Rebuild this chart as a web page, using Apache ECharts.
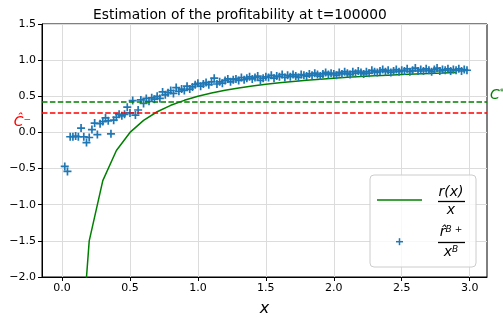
<!DOCTYPE html>
<html>
<head>
<meta charset="utf-8">
<script src="https://cdn.jsdelivr.net/npm/echarts@6/dist/echarts.min.js"></script>
<style>
  html, body { margin: 0; padding: 0; background: #fff; }
  #chart { width: 503px; height: 317px; }
</style>
</head>
<body>
<div id="chart"></div>
<script>
// estimated profitability r^B+/x^B (scatter) and true r(x)/x (line)
var scatterX = [0.02,0.04,0.06,0.08,0.10,0.12,0.14,0.16,0.18,0.20,0.22,0.24,0.26,0.28,0.30,0.32,0.34,0.36,0.38,0.40,
  0.42,0.44,0.46,0.48,0.50,0.52,0.54,0.56,0.58,0.60,0.62,0.64,0.66,0.68,0.70,0.72,0.74,0.76,0.78,0.80,
  0.82,0.84,0.86,0.88,0.90,0.92,0.94,0.96,0.98,1.00,1.02,1.04,1.06,1.08,1.10,1.12,1.14,1.16,1.18,1.20,
  1.22,1.24,1.26,1.28,1.30,1.32,1.34,1.36,1.38,1.40,1.42,1.44,1.46,1.48,1.50,1.52,1.54,1.56,1.58,1.60,
  1.62,1.64,1.66,1.68,1.70,1.72,1.74,1.76,1.78,1.80,1.82,1.84,1.86,1.88,1.90,1.92,1.94,1.96,1.98,2.00,
  2.02,2.04,2.06,2.08,2.10,2.12,2.14,2.16,2.18,2.20,2.22,2.24,2.26,2.28,2.30,2.32,2.34,2.36,2.38,2.40,
  2.42,2.44,2.46,2.48,2.50,2.52,2.54,2.56,2.58,2.60,2.62,2.64,2.66,2.68,2.70,2.72,2.74,2.76,2.78,2.80,
  2.82,2.84,2.86,2.88,2.90,2.92,2.94,2.96,2.98];
var scatterY = [-0.47,-0.54,-0.06,-0.06,-0.05,-0.06,0.06,-0.06,-0.14,-0.07,0.04,0.13,-0.03,0.12,0.15,0.20,0.16,-0.02,0.17,0.21,
  0.25,0.23,0.25,0.35,0.27,0.44,0.24,0.31,0.45,0.40,0.47,0.43,0.48,0.46,0.50,0.47,0.56,0.52,0.55,0.58,
  0.54,0.62,0.57,0.60,0.58,0.64,0.60,0.63,0.66,0.68,0.64,0.67,0.69,0.66,0.70,0.75,0.67,0.70,0.68,0.72,
  0.74,0.70,0.73,0.74,0.72,0.76,0.73,0.75,0.77,0.74,0.76,0.78,0.72,0.75,0.77,0.76,0.79,0.75,0.78,0.77,
  0.80,0.76,0.79,0.77,0.80,0.78,0.76,0.80,0.79,0.78,0.81,0.79,0.82,0.80,0.78,0.81,0.83,0.80,0.82,0.81,
  0.79,0.83,0.81,0.84,0.82,0.80,0.84,0.82,0.85,0.83,0.81,0.84,0.82,0.86,0.84,0.83,0.85,0.87,0.84,0.86,
  0.83,0.85,0.87,0.84,0.86,0.85,0.88,0.84,0.86,0.89,0.85,0.87,0.85,0.88,0.86,0.84,0.87,0.89,0.85,0.87,
  0.86,0.88,0.85,0.87,0.86,0.88,0.85,0.87,0.86];

var lineX = [0.1,0.2,0.3,0.4,0.5,0.6,0.7,0.8,0.9,1.0,1.1,1.2,1.3,1.4,1.5,1.6,1.7,1.8,1.9,2.0,
  2.1,2.2,2.3,2.4,2.5,2.6,2.7,2.8,2.9];
var lineY = [-4.0,-1.5,-0.667,-0.25,0.0,0.167,0.286,0.375,0.444,0.5,0.545,0.583,0.615,0.643,0.667,0.688,0.706,0.722,0.737,0.75,
  0.762,0.773,0.783,0.792,0.8,0.808,0.815,0.821,0.828];

var xTicks = [0, 0.5, 1.0, 1.5, 2.0, 2.5, 3.0];

var cStar = 0.426;   // green dashed
var cMinus = 0.265;  // red dashed

var font = 'DejaVu Sans';
var scatterData = scatterX.map(function (x, i) { return [x, scatterY[i]]; });
var lineData = lineX.map(function (x, i) { return [x, lineY[i]]; });
var plus = 'path://M0,2.6h2.6v-2.6h1.4v2.6h2.6v1.4h-2.6v2.6h-1.4v-2.6h-2.6z';

function fmt(v) { return v.toFixed(1).replace('-', '\u2212'); }

var chart = echarts.init(document.getElementById('chart'));
var option = {
  animation: false,
  title: {
    text: 'Estimation of the profitability at t=100000',
    left: 235, top: 3, textAlign: 'center',
    textStyle: { fontFamily: font, fontSize: 13.8, fontWeight: 'normal', color: '#000' }
  },
  grid: { left: 42, right: 16, top: 24, bottom: 40, outerBoundsMode: 'none', containLabel: false,
    show: true, borderColor: '#000', borderWidth: 1 },
  xAxis: {
    type: 'value', min: -0.1475, max: 3.1275,
    name: 'x', nameLocation: 'middle', nameGap: 24,
    nameTextStyle: { fontFamily: font, fontStyle: 'italic', fontSize: 16, color: '#000' },
    axisLine: { onZero: false, lineStyle: { color: '#000' } },
    axisTick: { length: 4, customValues: xTicks, lineStyle: { color: '#000' } },
    axisLabel: { fontFamily: font, fontSize: 11, color: '#000', margin: 6, formatter: fmt, customValues: xTicks },
    splitLine: { show: true, lineStyle: { color: '#dcdcdc', width: 1 } }
  },
  yAxis: {
    type: 'value', min: -2.0, max: 1.5, interval: 0.5,
    axisLine: { show: true, onZero: false, lineStyle: { color: '#000' } },
    axisTick: { show: true, length: 4, lineStyle: { color: '#000' } },
    axisLabel: { fontFamily: font, fontSize: 11, color: '#000', margin: 6, formatter: fmt },
    splitLine: { show: true, lineStyle: { color: '#dcdcdc', width: 1 } }
  },
  series: [
    {
      name: 'r(x)/x', type: 'line', data: lineData, showSymbol: false, symbol: 'none',
      lineStyle: { color: '#008000', width: 1.5 }, z: 3,
      markLine: {
        silent: true, symbol: 'none',
        data: [
          { yAxis: cStar, lineStyle: { color: '#008000', type: [5.5, 2.4], width: 1.5 },
            label: { position: 'end', distance: 3, offset: [0, -6], formatter: '{c|C}{s|*}',
              rich: { c: { fontFamily: font, fontStyle: 'italic', fontSize: 14, color: '#008000' },
                      s: { fontFamily: font, fontSize: 9, color: '#008000', verticalAlign: 'top' } } } },
          { yAxis: cMinus, lineStyle: { color: '#ff0000', type: [5.5, 2.4], width: 1.5 },
            label: { position: 'start', distance: 11, offset: [0, 9], formatter: '{c|\u0108}{s|\u2212}',
              rich: { c: { fontFamily: font, fontStyle: 'italic', fontSize: 14, color: '#ff0000' },
                      s: { fontFamily: font, fontSize: 9, color: '#ff0000', verticalAlign: 'top' } } } }
        ]
      }
    },
    {
      name: 'r^B+/x^B', type: 'scatter', data: scatterData, symbol: plus, symbolSize: 8,
      itemStyle: { color: '#1f77b4', opacity: 1 }, z: 4
    }
  ],
  graphic: [
    { type: 'rect', shape: { x: 370, y: 175, width: 106, height: 92, r: 4 },
      style: { fill: 'rgba(255,255,255,0.8)', stroke: '#cccccc', lineWidth: 1 }, z: 10 },
    { type: 'line', shape: { x1: 377, y1: 200, x2: 422, y2: 200 }, style: { stroke: '#008000', lineWidth: 1.5 }, z: 11 },
    { type: 'text', x: 451, y: 192, style: { text: 'r(x)', font: 'italic 14px "DejaVu Sans"', fill: '#000', align: 'center', verticalAlign: 'middle' }, z: 11 },
    { type: 'line', shape: { x1: 438, y1: 201.5, x2: 465, y2: 201.5 }, style: { stroke: '#000', lineWidth: 1.3 }, z: 11 },
    { type: 'text', x: 451, y: 210, style: { text: 'x', font: 'italic 14px "DejaVu Sans"', fill: '#000', align: 'center', verticalAlign: 'middle' }, z: 11 },
    { type: 'line', shape: { x1: 396, y1: 241.7, x2: 403, y2: 241.7 }, style: { stroke: '#1f77b4', lineWidth: 1.5 }, z: 11 },
    { type: 'line', shape: { x1: 399.5, y1: 238.2, x2: 399.5, y2: 245.2 }, style: { stroke: '#1f77b4', lineWidth: 1.5 }, z: 11 },
    { type: 'text', x: 451, y: 232, style: {
        text: '{c|r\u0302}{s|B +}', align: 'center', verticalAlign: 'middle',
        rich: { c: { font: 'italic 14px "DejaVu Sans"', fill: '#000' },
                s: { font: 'italic 9px "DejaVu Sans"', fill: '#000', verticalAlign: 'top' } } }, z: 11 },
    { type: 'line', shape: { x1: 438, y1: 242.5, x2: 465, y2: 242.5 }, style: { stroke: '#000', lineWidth: 1.3 }, z: 11 },
    { type: 'text', x: 451, y: 252, style: {
        text: '{c|x}{s|B}', align: 'center', verticalAlign: 'middle',
        rich: { c: { font: 'italic 14px "DejaVu Sans"', fill: '#000' },
                s: { font: 'italic 9px "DejaVu Sans"', fill: '#000', verticalAlign: 'top' } } }, z: 11 }
  ]
};
chart.setOption(option);
</script>
</body>
</html>
